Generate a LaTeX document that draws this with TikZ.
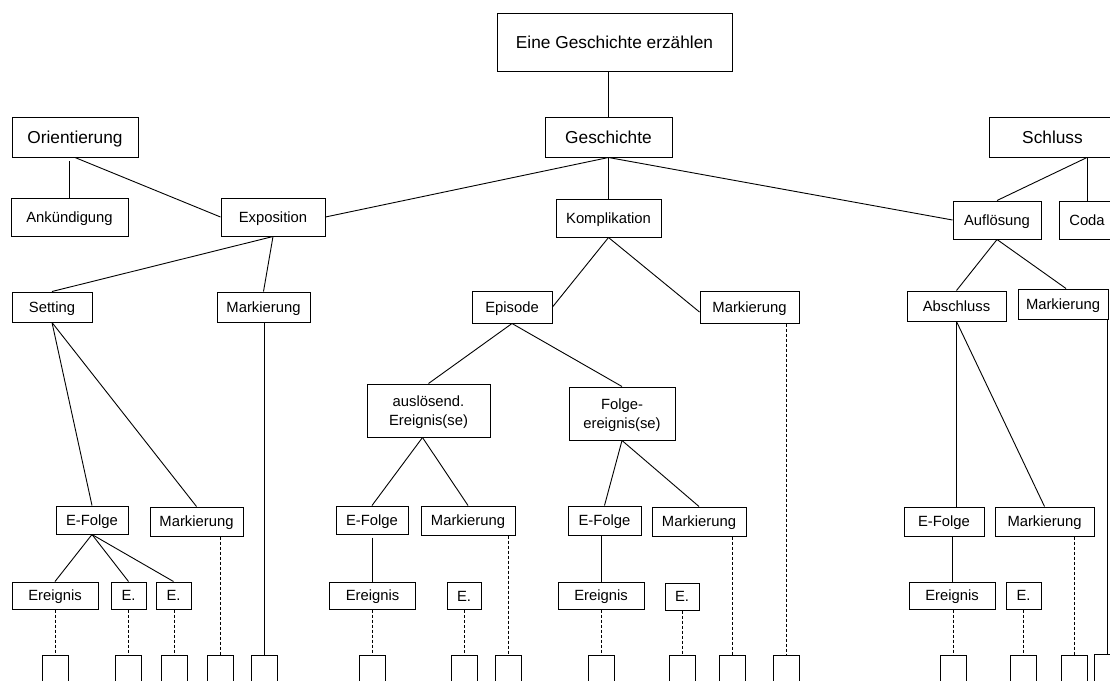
\documentclass[tikz,border=0pt]{standalone}
\usepackage{fontspec}
\setmainfont{Liberation Sans}
\begin{document}
\begin{tikzpicture}[x=1pt,y=-1pt,
  box/.style={draw, line width=1pt, inner sep=0pt, align=center,
    text height=10.6pt, text depth=0pt,
    font=\fontsize{14.8pt}{19pt}\selectfont},
  twoline/.style={box, text height=29.6pt, text depth=0pt},
  bigbox/.style={box, text height=12.4pt, font=\fontsize{17.3pt}{21pt}\selectfont},
  cell/.style={draw, line width=1pt, inner sep=0pt, minimum width=26pt,
    minimum height=50pt, anchor=north},
  link/.style={line width=0.9pt},
  dlink/.style={line width=0.9pt, dash pattern=on 3pt off 2pt}]
\clip (0,0) rectangle (1110,680);

% --- upper levels
\node[bigbox, minimum width=235pt, minimum height=58pt] (top) at (614.5,42) {Eine Geschichte erzählen};
\node[bigbox, minimum width=127pt, minimum height=40pt] (gesch) at (608.5,137) {Geschichte};
\node[bigbox, minimum width=126pt, minimum height=40pt] (orient) at (75,137) {Orientierung};
\node[bigbox, minimum width=127pt, minimum height=40pt] (schluss) at (1052.5,137) {Schluss};

\node[box, minimum width=117pt, minimum height=38pt] (ank) at (69.5,217) {Ankündigung};
\node[box, minimum width=104pt, minimum height=38pt] (expo) at (273,217) {Exposition};
\node[box, minimum width=105pt, minimum height=38pt] (kompl) at (608.5,218) {Komplikation};
\node[box, minimum width=88pt, minimum height=38pt] (aufl) at (997,220) {Auflösung};
\node[box, minimum width=56pt, minimum height=38pt] (coda) at (1087,220) {Coda};

\node[box, minimum width=80pt, minimum height=30pt] (setting) at (52,307) {Setting};
\node[box, minimum width=93pt, minimum height=30pt] (mkA) at (263.5,307) {Markierung};
\node[box, minimum width=80pt, minimum height=32pt] (episode) at (512,307) {Episode};
\node[box, minimum width=99pt, minimum height=32pt] (mkB) at (749.5,307) {Markierung};
\node[box, minimum width=99pt, minimum height=30pt] (abschl) at (956.5,306) {Abschluss};
\node[box, minimum width=90pt, minimum height=30pt] (mkC) at (1063,304) {Markierung};

\node[twoline, minimum width=123pt, minimum height=53pt] (ausl) at (428.5,410.5) {auslösend.\\Ereignis(se)};
\node[twoline, minimum width=106pt, minimum height=53pt] (folge) at (622,413.5) {Folge-\\ereignis(se)};

% --- event sequences and markers
\node[box, minimum width=72pt, minimum height=28pt] (efA) at (92,520) {E-Folge};
\node[box, minimum width=93pt, minimum height=29pt] (mkD) at (196.5,521.5) {Markierung};
\node[box, minimum width=72pt, minimum height=28pt] (efB) at (372,520) {E-Folge};
\node[box, minimum width=94pt, minimum height=29pt] (mkE) at (468,520.5) {Markierung};
\node[box, minimum width=73pt, minimum height=29pt] (efC) at (604.5,520.5) {E-Folge};
\node[box, minimum width=94pt, minimum height=29pt] (mkF) at (699,521.5) {Markierung};
\node[box, minimum width=80pt, minimum height=29pt] (efD) at (944,521.5) {E-Folge};
\node[box, minimum width=99pt, minimum height=29pt] (mkG) at (1044.5,521.5) {Markierung};

% --- single events
\node[box, minimum width=86pt, minimum height=27pt] (erA) at (55,595.5) {Ereignis};
\node[box, minimum width=35pt, minimum height=27pt] (eA1) at (128.5,595.5) {E.};
\node[box, minimum width=35pt, minimum height=27pt] (eA2) at (173.5,595.5) {E.};
\node[box, minimum width=86pt, minimum height=27pt] (erB) at (372.5,595.5) {Ereignis};
\node[box, minimum width=34pt, minimum height=27pt] (eB) at (464,596) {E.};
\node[box, minimum width=86pt, minimum height=27pt] (erC) at (601,595.5) {Ereignis};
\node[box, minimum width=34pt, minimum height=27pt] (eC) at (682,596.5) {E.};
\node[box, minimum width=86pt, minimum height=27pt] (erD) at (952,595.5) {Ereignis};
\node[box, minimum width=35pt, minimum height=27pt] (eD) at (1023.5,595.5) {E.};

% --- empty cells along the bottom
\node[cell] (c1) at (55,655) {};
\node[cell] (c2) at (128,655) {};
\node[cell] (c3) at (174,655) {};
\node[cell] (c4) at (220,655) {};
\node[cell] (c5) at (264,655) {};
\node[cell] (c6) at (372,655) {};
\node[cell] (c7) at (464,655) {};
\node[cell] (c8) at (508,655) {};
\node[cell] (c9) at (601,655) {};
\node[cell] (c10) at (682,655) {};
\node[cell] (c11) at (732,655) {};
\node[cell] (c12) at (786,655) {};
\node[cell] (c13) at (953,655) {};
\node[cell] (c14) at (1023,655) {};
\node[cell] (c15) at (1074,655) {};
\node[cell] (c16) at (1107,654) {};

% --- solid connectors
\draw[link] (gesch.north) -- (gesch.north |- top.south);
\draw[link] (gesch.south) -- (expo.east);
\draw[link] (gesch.south) -- (kompl.north);
\draw[link] (gesch.south) -- (aufl.west);
\draw[link, shorten >=3pt] (ank.north) -- (ank.north |- orient.south);
\draw[link] (orient.south) -- (expo.west);
\draw[link] (coda.north) -- (coda.north |- schluss.south);
\draw[link] (coda.north |- schluss.south) -- (aufl.north);

\draw[link] (expo.south) -- (setting.north);
\draw[link] (expo.south) -- (mkA.north);
\draw[link] (kompl.south) -- (episode.east);
\draw[link] (kompl.south) -- ([yshift=-5pt]mkB.west);
\draw[link] (aufl.south) -- ([xshift=3pt]mkC.north);
\draw[link] (aufl.south) -- (abschl.north);

\draw[link] (setting.south) -- (efA.north);
\draw[link] (setting.south) -- (mkD.north);
\draw[link] (episode.south) -- (ausl.north);
\draw[link] (episode.south) -- (folge.north);
\draw[link] ([xshift=-6pt]ausl.south) -- (efB.north);
\draw[link] ([xshift=-6pt]ausl.south) -- (mkE.north);
\draw[link] (folge.south) -- (efC.north);
\draw[link] (folge.south) -- (mkF.north);
\draw[link] (abschl.south) -- (abschl.south |- efD.north);
\draw[link] (abschl.south) -- (mkG.north);

\draw[link] (efA.south) -- (erA.north);
\draw[link] (efA.south) -- (eA1.north);
\draw[link] (efA.south) -- (eA2.north);
\draw[link, shorten <=3pt] (erB.north |- efB.south) -- (erB.north);
\draw[link] (erC.north |- efC.south) -- (erC.north);
\draw[link] (erD.north |- efD.south) -- (erD.north);

\draw[link] (c5.north |- mkA.south) -- (c5.north);
\draw[link] (c16.north |- mkC.south) -- (c16.north);

% --- dashed connectors
\draw[dlink] (c1.north |- erA.south) -- (c1.north);
\draw[dlink] (c2.north |- eA1.south) -- (c2.north);
\draw[dlink] (c3.north |- eA2.south) -- (c3.north);
\draw[dlink] (c4.north |- mkD.south) -- (c4.north);
\draw[dlink] (c6.north |- erB.south) -- (c6.north);
\draw[dlink] (c7.north |- eB.south) -- (c7.north);
\draw[dlink] (c8.north |- mkE.south) -- (c8.north);
\draw[dlink] (c9.north |- erC.south) -- (c9.north);
\draw[dlink] (c10.north |- eC.south) -- (c10.north);
\draw[dlink] (c11.north |- mkF.south) -- (c11.north);
\draw[dlink] (c12.north |- mkB.south) -- (c12.north);
\draw[dlink] (c13.north |- erD.south) -- (c13.north);
\draw[dlink] (c14.north |- eD.south) -- (c14.north);
\draw[dlink] (c15.north |- mkG.south) -- (c15.north);
\end{tikzpicture}
\end{document}
